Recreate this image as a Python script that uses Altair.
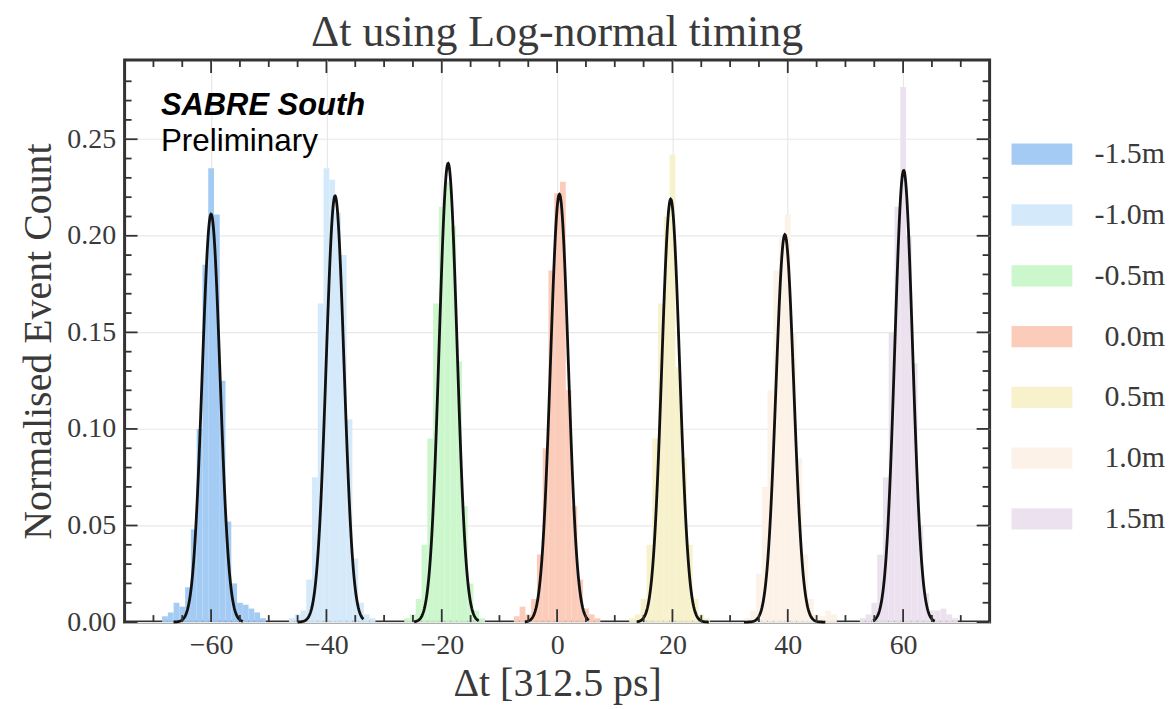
import altair as alt
import numpy as np
import pandas as pd

# ---------------- data ----------------
series = ["-1.5m", "-1.0m", "-0.5m", "0.0m", "0.5m", "1.0m", "1.5m"]
colors = ["#9fc8f3", "#d2e8fa", "#c9f5c9", "#fbc9b5", "#f7f0c9", "#fdf1e6", "#ebe0ee"]

# histogram: first bin centre (bin width 1) and normalised counts
first_bin = [-68, -46, -26, -7, 13, 33, 53]
counts_m15 = [0.003, 0.005, 0.010, 0.008, 0.018, 0.048, 0.100, 0.185, 0.235, 0.211,
              0.125, 0.052, 0.020, 0.010, 0.009, 0.007, 0.005, 0.002]
counts_m10 = [0.002, 0.004, 0.006, 0.022, 0.075, 0.165, 0.235, 0.229, 0.212, 0.190,
              0.105, 0.033, 0.010, 0.004, 0.002]
counts_m05 = [0.002, 0.004, 0.012, 0.040, 0.095, 0.165, 0.215, 0.228, 0.205, 0.135,
              0.060, 0.020, 0.006, 0.002]
counts_p00 = [0.003, 0.008, 0.004, 0.012, 0.035, 0.090, 0.182, 0.222, 0.228, 0.120,
              0.060, 0.022, 0.007, 0.004, 0.002]
counts_p05 = [0.002, 0.004, 0.012, 0.040, 0.095, 0.165, 0.210, 0.242, 0.132, 0.085,
              0.040, 0.012, 0.004, 0.002]
counts_p10 = [0.002, 0.006, 0.025, 0.070, 0.120, 0.182, 0.200, 0.211, 0.150, 0.085,
              0.035, 0.012, 0.004, 0.003, 0.006, 0.004]
counts_p15 = [0.002, 0.004, 0.010, 0.035, 0.075, 0.150, 0.215, 0.277, 0.200, 0.134,
              0.050, 0.015, 0.006, 0.006, 0.007, 0.004, 0.002]
all_counts = [counts_m15, counts_m10, counts_m05, counts_p00, counts_p05, counts_p10, counts_p15]

# fitted curves: centre, peak height, width and drawn range
fit_mean = [-60.0, -38.5, -18.9, 0.4, 19.7, 39.5, 60.1]
fit_amp = [0.2112, 0.2206, 0.2375, 0.2215, 0.2190, 0.2006, 0.2338]
fit_sigma = [1.55, 1.55, 1.55, 1.55, 1.55, 1.55, 1.55]
fit_start = [-66.5, -45.0, -24.8, -5.6, 13.8, 32.4, 54.8]
fit_end = [-54.5, -33.6, -13.6, 5.5, 26.3, 46.5, 65.5]

x_major = [-60, -40, -20, 0, 20, 40, 60]
x_minor = [-70, -65, -55, -50, -45, -35, -30, -25, -15, -10, -5,
           5, 10, 15, 25, 30, 35, 45, 50, 55, 65, 70]
y_major = [0.0, 0.05, 0.10, 0.15, 0.20, 0.25]
y_minor = [0.01, 0.02, 0.03, 0.04, 0.06, 0.07, 0.08, 0.09, 0.11, 0.12, 0.13, 0.14,
           0.16, 0.17, 0.18, 0.19, 0.21, 0.22, 0.23, 0.24, 0.26, 0.27, 0.28]

x_domain = [-75, 75]
y_domain = [0, 0.291]

# ---------------- tables ----------------
rows = []
for s, b0, cs in zip(series, first_bin, all_counts):
    for i, v in enumerate(cs):
        c = b0 + i
        rows.append({"series": s, "lo": c - 0.5, "hi": c + 0.5, "val": v})
bars_df = pd.DataFrame(rows)

crow = []
for s, mu, a, sg, x0, x1 in zip(series, fit_mean, fit_amp, fit_sigma, fit_start, fit_end):
    for x in np.linspace(x0, x1, 160):
        crow.append({"series": s, "lo": x, "val": a * np.exp(-0.5 * ((x - mu) / sg) ** 2)})
curve_df = pd.DataFrame(crow)

W, H = 868, 564
FONT = "Liberation Serif"
TXT = "#3a3a3a"
TICK = "#333333"

xs = alt.Scale(domain=x_domain, nice=False, zero=False)
ys = alt.Scale(domain=y_domain, nice=False, zero=False)

x_axis = alt.Axis(values=x_major, format="d", title="Δt [312.5 ps]", grid=True, ticks=False,
                  domain=False, labelPadding=10, titlePadding=4)
y_axis = alt.Axis(values=y_major, format=".2f", title="Normalised Event Count", grid=True,
                  ticks=False, domain=False, labelPadding=9, titlePadding=8)

bars = alt.Chart(bars_df).mark_rect(opacity=0.95).encode(
    x=alt.X("lo:Q", scale=xs, axis=x_axis),
    x2="hi:Q",
    y=alt.Y("val:Q", scale=ys, axis=y_axis),
    y2=alt.datum(0),
    color=alt.Color("series:N", scale=alt.Scale(domain=series, range=colors),
                    legend=alt.Legend(
                        title=None, orient="none", legendX=890, legendY=64,
                        symbolType="M-1,-0.35H1V0.35H-1Z", symbolSize=3721,
                        symbolStrokeWidth=0, rowPadding=15, labelOffset=93, padding=0,
                        labelAlign="right",
                        labelFont=FONT, labelFontSize=30, labelColor=TXT)),
)

curves = alt.Chart(curve_df).mark_line(color="#111111", strokeWidth=2.8).encode(
    x=alt.X("lo:Q", scale=xs, axis=x_axis),
    y=alt.Y("val:Q", scale=ys, axis=y_axis),
    detail="series:N",
)

tick_layers = []
for vals, L in [(x_major, 13), (x_minor, 7)]:
    d = pd.DataFrame({"lo": vals})
    tick_layers.append(alt.Chart(d).mark_rule(color=TICK, strokeWidth=1.8).encode(
        x=alt.X("lo:Q", scale=xs, axis=x_axis), y=alt.value(H), y2=alt.value(H - L)))
    tick_layers.append(alt.Chart(d).mark_rule(color=TICK, strokeWidth=1.8).encode(
        x=alt.X("lo:Q", scale=xs, axis=x_axis), y=alt.value(0), y2=alt.value(L)))
for vals, L in [(y_major, 13), (y_minor, 7)]:
    d = pd.DataFrame({"val": vals})
    tick_layers.append(alt.Chart(d).mark_rule(color=TICK, strokeWidth=1.8).encode(
        y=alt.Y("val:Q", scale=ys, axis=y_axis), x=alt.value(0), x2=alt.value(L)))
    tick_layers.append(alt.Chart(d).mark_rule(color=TICK, strokeWidth=1.8).encode(
        y=alt.Y("val:Q", scale=ys, axis=y_axis), x=alt.value(W), x2=alt.value(W - L)))

ann1 = pd.DataFrame({"lo": [-68.7], "val": [0.2624], "t": ["SABRE South"]})
ann2 = pd.DataFrame({"lo": [-68.7], "val": [0.2438], "t": ["Preliminary"]})
t1 = alt.Chart(ann1).mark_text(font="Liberation Sans", fontSize=31, fontWeight="bold",
                               fontStyle="italic", align="left", baseline="alphabetic",
                               color="#000000").encode(
    x=alt.X("lo:Q", scale=xs, axis=x_axis), y=alt.Y("val:Q", scale=ys, axis=y_axis), text="t:N")
t2 = alt.Chart(ann2).mark_text(font="Liberation Sans", fontSize=31.5, align="left",
                               baseline="alphabetic", color="#000000").encode(
    x=alt.X("lo:Q", scale=xs, axis=x_axis), y=alt.Y("val:Q", scale=ys, axis=y_axis), text="t:N")

chart = alt.layer(bars, curves, *tick_layers, t1, t2).properties(
    width=W, height=H,
    padding={"left": 11, "top": 2, "right": 0, "bottom": 0},
    title=alt.Title("Δt using Log-normal timing", font=FONT, fontSize=44,
                    fontWeight="normal", color=TXT, offset=4),
).configure_view(stroke="#333333", strokeWidth=3).configure_axis(
    labelFont=FONT, labelFontSize=28, labelColor=TXT,
    titleFont=FONT, titleFontSize=40, titleFontWeight="normal", titleColor=TXT,
    gridColor="#e8e8e8", gridWidth=1.2,
)

chart.save("out.html", embed_options={"renderer": "svg", "actions": False})
